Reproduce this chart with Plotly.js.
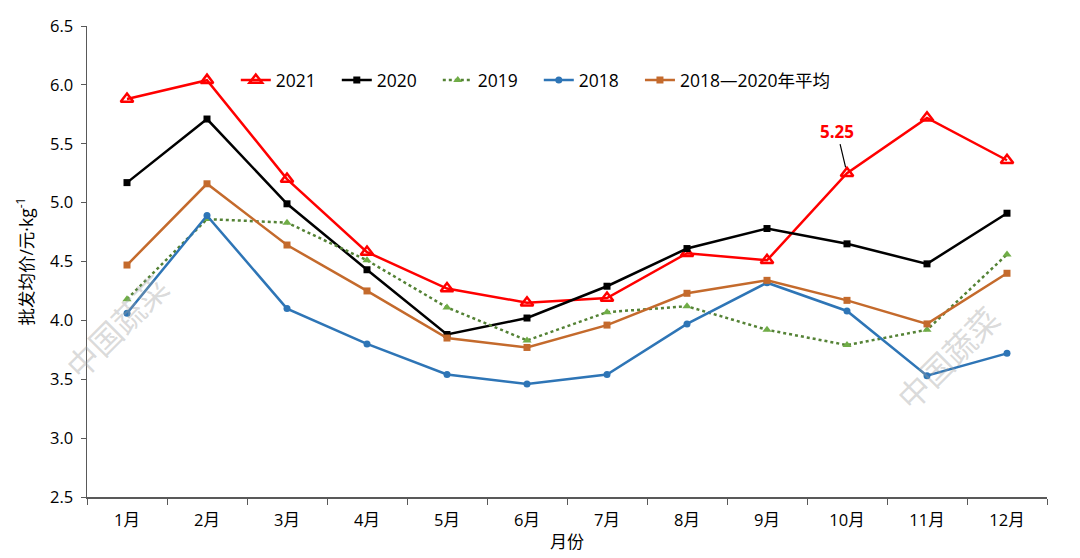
<!DOCTYPE html>
<html>
<head>
<meta charset="utf-8">
<script src="https://cdn.plot.ly/plotly-3.0.1.min.js"></script>
<style>html,body{margin:0;padding:0;background:#fff;}#chart{width:1080px;height:558px;}</style>
</head>
<body>
<div id="chart"></div>
<script>
const months = ['1月','2月','3月','4月','5月','6月','7月','8月','9月','10月','11月','12月'];
const y2021 = [5.88,6.04,5.20,4.58,4.27,4.15,4.19,4.57,4.51,5.25,5.72,5.36];
const y2020 = [5.17,5.71,4.99,4.43,3.88,4.02,4.29,4.61,4.78,4.65,4.48,4.91];
const y2019 = [4.18,4.86,4.83,4.51,4.11,3.83,4.07,4.12,3.92,3.79,3.92,4.56];
const y2018 = [4.06,4.89,4.10,3.80,3.54,3.46,3.54,3.97,4.32,4.08,3.53,3.72];
const yAvg  = [4.47,5.16,4.64,4.25,3.85,3.77,3.96,4.23,4.34,4.17,3.97,4.40];
const yTicks = [2.5,3.0,3.5,4.0,4.5,5.0,5.5,6.0,6.5];

const FONT = 'Open Sans, "Noto Sans CJK SC", sans-serif';
const traces = [
  {name:'2021', x:months, y:y2021, mode:'lines+markers', line:{color:'#FF0000', width:2.5},
   marker:{symbol:'triangle-up-open', size:11, color:'#FF0000', line:{width:2.5, color:'#FF0000'}}},
  {name:'2020', x:months, y:y2020, mode:'lines+markers', line:{color:'#000000', width:2.5},
   marker:{symbol:'square', size:7, color:'#000000'}},
  {name:'2019', x:months, y:y2019, mode:'lines+markers', line:{color:'#548235', width:2.5, dash:'dot'},
   marker:{symbol:'triangle-up', size:8, color:'#70AD47'}},
  {name:'2018', x:months, y:y2018, mode:'lines+markers', line:{color:'#2E75B6', width:2.5},
   marker:{symbol:'circle', size:7, color:'#2E75B6'}},
  {name:'2018—2020年平均', x:months, y:yAvg, mode:'lines+markers', line:{color:'#C46A2C', width:2.5},
   marker:{symbol:'square', size:7, color:'#C46A2C'}, legend:'legend2'}
];

const legendBase = {orientation:'h', yanchor:'middle', xanchor:'left', y:0.885,
  font:{size:17.5, family:FONT}, bgcolor:'rgba(0,0,0,0)', itemwidth:30, traceorder:'normal'};

const layout = {
  width:1080, height:558,
  margin:{l:87, r:33, t:26, b:61},
  paper_bgcolor:'#fff', plot_bgcolor:'#fff',
  font:{family:FONT, size:16, color:'#000'},
  showlegend:true,
  legend:Object.assign({}, legendBase, {x:0.155, entrywidth:56, entrywidthmode:'pixels'}),
  legend2:Object.assign({}, legendBase, {x:0.576}),
  xaxis:{type:'category', showline:true, linecolor:'#595959', linewidth:1.5,
         ticks:'outside', tickson:'boundaries', ticklen:6, tickcolor:'#595959',
         showgrid:false, zeroline:false, tickfont:{size:16.5}, range:[-0.5,11.5],
         ticklabelstandoff:8,
         title:{text:'月份', font:{size:17}, standoff:6}},
  yaxis:{range:[2.5,6.5], tickvals:yTicks, ticktext:yTicks.map(v=>v.toFixed(1)),
         showline:true, linecolor:'#595959', linewidth:1.5, ticks:'outside', ticklen:5,
         tickcolor:'#595959', showgrid:false, zeroline:false, tickfont:{size:16.5},
         ticklabelstandoff:4,
         title:{text:'批发均价/元·kg<sup>-1</sup>', font:{size:17.5}, standoff:12}},
  annotations:[
    {x:'10月', y:5.25, xref:'x', yref:'y', text:'<b>5.25</b>', showarrow:true, arrowhead:0,
     arrowwidth:1.2, arrowcolor:'#000', ax:-10, ay:-42, standoff:6,
     font:{size:17, color:'#FF0000', family:FONT}},
    {x:116, y:326, xref:'paper', yref:'paper', text:'中国蔬菜', showarrow:false, textangle:-45,
     xanchor:'center', yanchor:'middle',
     font:{size:32, color:'rgba(160,160,160,0.4)', family:'"Noto Sans CJK SC", sans-serif'}},
    {x:947, y:357, xref:'paper', yref:'paper', text:'中国蔬菜', showarrow:false, textangle:-45,
     xanchor:'center', yanchor:'middle',
     font:{size:32, color:'rgba(160,160,160,0.4)', family:'"Noto Sans CJK SC", sans-serif'}}
  ]
};
// convert watermark pixel positions to paper coords
const pw = 1080-87-33, ph = 558-26-61;
[1,2].forEach(i=>{
  const a = layout.annotations[i];
  a.x = (a.x-87)/pw; a.y = 1-(a.y-26)/ph;
});
Plotly.newPlot('chart', traces, layout, {displayModeBar:false, staticPlot:true});
</script>
</body>
</html>
